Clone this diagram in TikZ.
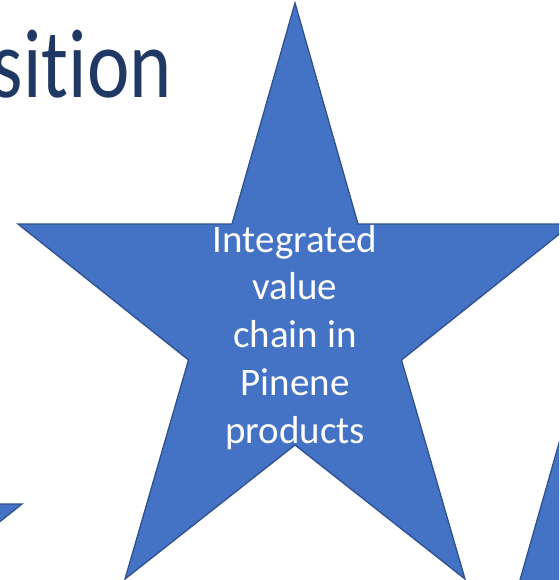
\documentclass[tikz,border=0pt]{standalone}
\usepackage{fontspec}
\setmainfont[Ligatures=NoCommon]{Carlito}
\newfontfamily\titlefont[FakeStretch=0.82, Ligatures=NoCommon]{Carlito}
\usepackage{xcolor}
\definecolor{starblue}{HTML}{4472C4}
\definecolor{starline}{HTML}{2F528F}
\definecolor{titleblue}{HTML}{203864}
\tikzset{
  starfill/.style={fill=starblue, draw=starline, line width=1.3pt, line join=miter},
  startext/.style={text=white, align=center, inner sep=0pt, font=\fontsize{39}{47.75}\selectfont},
  titletext/.style={text=titleblue, inner sep=0pt, font=\titlefont\fontsize{98}{110}\selectfont}
}

\begin{document}
\begin{tikzpicture}[x=1pt,y=-1pt]
			\useasboundingbox (0,0) rectangle (559,580);
			\clip (0,0) rectangle (559,580);
			% title, cut off at the left edge
			\node[titletext, anchor=base east] (title) at (172,98) {sition};
			% stars: the middle one and the two neighbours
			\foreach \dx/\dy in {0/0, -550/280, 280/384}{
				\draw[starfill, shift={(\dx,\dy)}] (295,3) -- (358,224) -- (572,224) -- (401.5,360)
					-- (465,579) -- (295,445) -- (125,579) -- (188.5,360) -- (18,224) -- (232,224) -- cycle;
			}
			\node[startext, anchor=base] (label) at (295,443) {Integrated\\value\\chain in\\Pinene\\products};
		\end{tikzpicture}
\end{document}
